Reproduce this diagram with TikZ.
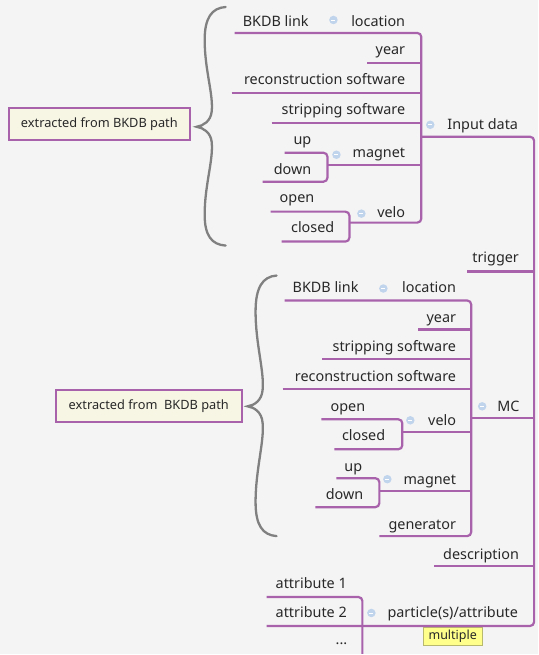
\documentclass[tikz,border=0pt]{standalone}
\usepackage{fontspec}
\setmainfont{Noto Sans}
\definecolor{mmbg}{RGB}{244,244,244}
\definecolor{mmline}{RGB}{168,98,172}
\definecolor{mmtext}{RGB}{40,40,40}
\definecolor{mmfold}{RGB}{192,212,236}
\definecolor{mmbrace}{RGB}{128,128,128}
\definecolor{mmnote}{RGB}{247,245,228}
\definecolor{mmtag}{RGB}{255,255,140}
\definecolor{mmtagline}{RGB}{185,185,110}
\begin{document}
\begin{tikzpicture}[x=1pt,y=-1pt,
  txt/.style={inner sep=0pt,text=mmtext,font=\fontsize{14.4}{16}\selectfont},
  branch/.style={draw=mmline,line width=2.2pt,rounded corners=4pt},
  fold/.style={circle,fill=mmfold,inner sep=0pt,minimum size=8.5pt,
    path picture={\draw[white,line width=.9pt] ([xshift=-2pt]path picture bounding box.center)--([xshift=2pt]path picture bounding box.center);}},
  note/.style={draw=mmline,line width=2pt,fill=mmnote,inner sep=0pt,text=mmtext,font=\fontsize{12.8}{14}\selectfont},
  tag/.style={draw=mmtagline,line width=.8pt,fill=mmtag,inner sep=0pt,text=mmtext,font=\fontsize{12.5}{14}\selectfont},
  curly/.style={draw=mmbrace,line width=2.3pt,line cap=round}]
  \fill[mmbg] (0,0) rectangle (539,655);
  \coordinate (root) at (535,0);
  \coordinate (dbar) at (422,0);
  \coordinate (dmagbar) at (328,0);
  \coordinate (dvelobar) at (350,0);
  \coordinate (mbar) at (472,0);
  \coordinate (mvelobar) at (403,0);
  \coordinate (mmagbar) at (380,0);
  \coordinate (abar) at (363,0);
  % Input data
  \node[txt,anchor=base west] (dlink) at (243,27) {BKDB link};
  \node[fold] (dlocf) at (334,20) {};
  \node[txt,anchor=base east] (dloc) at (406,27) {location};
  \node[txt,anchor=base east] (dyear) at (406,55) {year};
  \node[txt,anchor=base east] (dreco) at (406,85) {reconstruction software};
  \node[txt,anchor=base east] (dstrip) at (406,115) {stripping software};
  \node[fold] (dinf) at (431,125) {};
  \node[txt,anchor=base west] (din) at (448,130) {Input data};
  \node[txt,anchor=base east] (dup) at (312,145) {up};
  \node[txt,anchor=base east] (ddown) at (312,175) {down};
  \node[fold] (dmagf) at (337,155) {};
  \node[txt,anchor=base east] (dmag) at (406,158) {magnet};
  \node[txt,anchor=base east] (dopen) at (315,203) {open};
  \node[txt,anchor=base east] (dclosed) at (335,233) {closed};
  \node[fold] (dvelof) at (362,214) {};
  \node[txt,anchor=base east] (dvelo) at (406,218) {velo};
  \coordinate (dlinkL) at (235,33);
  \coordinate (dyearL) at (368,63);
  \coordinate (drecoL) at (232,93);
  \coordinate (dstripL) at (272,123);
  \coordinate (dmagL) at (328,165);
  \coordinate (dupL) at (285,153);
  \coordinate (ddownL) at (263,182);
  \coordinate (dveloL) at (350,223);
  \coordinate (dopenL) at (271,212);
  \coordinate (dclosedL) at (282,242);
  \coordinate (dinL) at (422,137);
  \draw[branch] (dlinkL) -- (dlinkL -| dbar) -- (dveloL -| dbar) -- (dveloL);
  \draw[branch] (dyearL) -- (dyearL -| dbar);
  \draw[branch] (drecoL) -- (drecoL -| dbar);
  \draw[branch] (dstripL) -- (dstripL -| dbar);
  \draw[branch] (dmagL) -- (dmagL -| dbar);
  \draw[branch] (dupL) -- (dupL -| dmagbar) -- (ddownL -| dmagbar) -- (ddownL);
  \draw[branch] (dopenL) -- (dopenL -| dvelobar) -- (dclosedL -| dvelobar) -- (dclosedL);
  % MC
  \node[txt,anchor=base east] (trig) at (520,263) {trigger};
  \node[fold] (mcf) at (483,407) {};
  \node[txt,anchor=base west] (mc) at (498,412) {MC};
  \node[txt,anchor=base west] (mlink) at (293,293) {BKDB link};
  \node[fold] (mlocf) at (384,289) {};
  \node[txt,anchor=base east] (mloc) at (457,293) {location};
  \node[txt,anchor=base east] (myear) at (457,323) {year};
  \node[txt,anchor=base east] (mstrip) at (457,352) {stripping software};
  \node[txt,anchor=base east] (mreco) at (457,382) {reconstruction software};
  \node[txt,anchor=base east] (mopen) at (366,412) {open};
  \node[txt,anchor=base east] (mclosed) at (386,441) {closed};
  \node[fold] (mvelof) at (411,421) {};
  \node[txt,anchor=base east] (mvelo) at (457,426) {velo};
  \node[txt,anchor=base east] (mup) at (363,472) {up};
  \node[txt,anchor=base east] (mdown) at (364,500) {down};
  \node[fold] (mmagf) at (388,480) {};
  \node[txt,anchor=base east] (mmag) at (457,485) {magnet};
  \node[txt,anchor=base east] (mgen) at (457,530) {generator};
  \coordinate (trigL) at (468,272);
  \coordinate (mcL) at (473,419);
  \coordinate (mlinkL) at (285,301);
  \coordinate (myearL) at (419,330);
  \coordinate (mstripL) at (323,360);
  \coordinate (mrecoL) at (283,390);
  \coordinate (mveloL) at (403,433);
  \coordinate (mopenL) at (322,420);
  \coordinate (mclosedL) at (335,450);
  \coordinate (mmagL) at (380,492);
  \coordinate (mupL) at (337,479);
  \coordinate (mdownL) at (316,508);
  \coordinate (mgenL) at (380,537);
  \draw[branch] (mlinkL) -- (mlinkL -| mbar) -- (mgenL -| mbar) -- (mgenL);
  \draw[branch] (myearL) -- (myearL -| mbar);
  \draw[branch] (mstripL) -- (mstripL -| mbar);
  \draw[branch] (mrecoL) -- (mrecoL -| mbar);
  \draw[branch] (mveloL) -- (mveloL -| mbar);
  \draw[branch] (mmagL) -- (mmagL -| mbar);
  \draw[branch] (mopenL) -- (mopenL -| mvelobar) -- (mclosedL -| mvelobar) -- (mclosedL);
  \draw[branch] (mupL) -- (mupL -| mmagbar) -- (mdownL -| mmagbar) -- (mdownL);
  % description, particles
  \node[txt,anchor=base east] (descr) at (520,560) {description};
  \node[fold] (partf) at (372,614) {};
  \node[txt,anchor=base west] (part) at (388,619) {particle(s)/attribute};
  \node[txt,anchor=base west] (attra) at (276,589) {attribute 1};
  \node[txt,anchor=base west] (attrb) at (276,619) {attribute 2};
  \node[txt,anchor=base] (attrc) at (342,646) {...};
  \node[tag,minimum width=59pt,minimum height=18pt] (multi) at (453.5,637) {multiple};
  \coordinate (descrL) at (435,567);
  \coordinate (attraL) at (267,598);
  \coordinate (attrbL) at (267,627);
  \coordinate (attrcL) at (363,655);
  \draw[branch] (dinL) -- (dinL -| root) -- (attrbL -| root) -- (attrbL);
  \draw[branch] (trigL) -- (trigL -| root);
  \draw[branch] (mcL) -- (mcL -| root);
  \draw[branch] (descrL) -- (descrL -| root);
  \draw[branch] (attraL) -- (attraL -| abar) -- (attrcL);
  % notes
  \draw[curly] (226,7) .. controls (212,8) and (205,18) .. (205,40)
    .. controls (205,70) and (214,95) .. (212,112) .. controls (211,121) and (204,126) .. (197,127)
    .. controls (204,128) and (211,133) .. (212,142) .. controls (214,160) and (205,185) .. (205,215)
    .. controls (205,236) and (212,245) .. (226,246);
  \draw[curly] (277,276) .. controls (263,277) and (256,288) .. (256,312)
    .. controls (256,345) and (265,372) .. (263,391) .. controls (262,401) and (255,406) .. (248,407)
    .. controls (255,408) and (262,413) .. (263,423) .. controls (265,442) and (256,470) .. (256,503)
    .. controls (256,526) and (263,536) .. (277,537);
  \node[note,minimum width=181pt,minimum height=32pt] (dnote) at (99.5,124) {extracted from BKDB path};
  \node[note,minimum width=186pt,minimum height=32pt] (mnote) at (149,407) {extracted from\ \ BKDB path};
\end{tikzpicture}
\end{document}
